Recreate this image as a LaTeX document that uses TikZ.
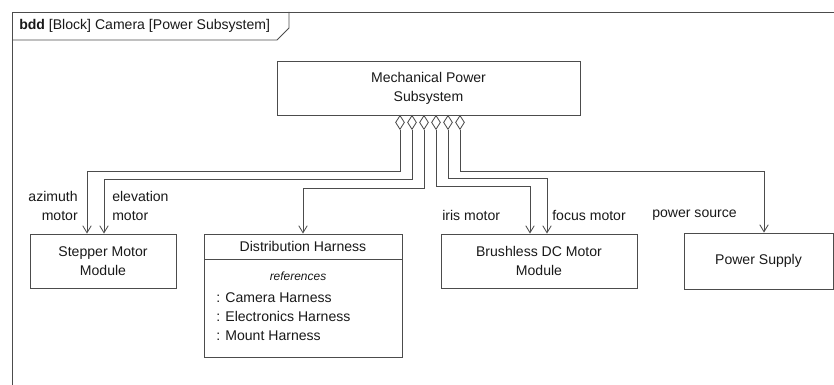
\documentclass[tikz,border=0pt]{standalone}
\usepackage{fontspec}
\setmainfont{Liberation Sans}
\usetikzlibrary{shapes.geometric,arrows.meta}

\begin{document}
\begin{tikzpicture}[x=0.025cm, y=-0.025cm, font=\fontsize{10}{13.5}\selectfont,
  line/.style={draw=black!70, line width=0.6pt},
  block/.style={line, rectangle, align=center, minimum height=1.35cm, inner sep=0pt, text=black!90},
  agg/.style={line, diamond, fill=white, minimum width=0.225cm, minimum height=0.35cm, inner sep=0pt, anchor=north},
  conn/.style={line, -{Straight Barb[length=5pt, width=6pt]}},
  lab/.style={inner sep=0pt, text=black!90}]
\useasboundingbox (0,0) rectangle (834,385);
% frame and its tab
\draw[line] (834,12) -- (12,12) -- (12,385);
\draw[line] (12,40) -- (277,40) -- (289,28) -- (289,12);
\node[lab, anchor=west] (title) at (19,26) {\textbf{bdd} [Block] Camera [Power Subsystem]};

% blocks
\node[block, minimum width=7.575cm] (mps) at (428.5,88) {Mechanical Power\\Subsystem};
\node[block, minimum width=3.65cm] (stepper) at (103,261) {Stepper Motor\\Module};
\node[block, minimum width=4.9cm] (bldc) at (539,261) {Brushless DC Motor\\Module};
\node[block, minimum width=3.725cm, minimum height=1.4cm] (psu) at (758.5,261) {Power Supply};
\node[block, minimum width=4.95cm, minimum height=0.625cm] (dh) at (303,246.5) {Distribution Harness};
\node[block, minimum width=4.95cm, minimum height=2.45cm, anchor=north] (dhbody) at (dh.south) {};
\node[lab, font=\fontsize{8.5}{11}\selectfont\itshape] (refs) at (298,276) {references};
\node[lab, anchor=west, align=left] (parts) at (216,316.5) {: Camera Harness\\: Electronics Harness\\: Mount Harness};

% composite ends
\foreach \i/\x in {1/400,2/412,3/424,4/436,5/448,6/460} {
  \node[agg] (d\i) at (\x,115) {};
}

% parts
\draw[conn] (d1.south) -- (d1.south |- 0,171) -| (87,0 |- stepper.north);
\draw[conn] (d2.south) -- (d2.south |- 0,179) -| (104,0 |- stepper.north);
\draw[conn] (d3.south) -- (d3.south |- 0,188) -| (dh.north);
\draw[conn] (d4.south) -- (d4.south |- 0,186) -| (530,0 |- bldc.north);
\draw[conn] (d5.south) -- (d5.south |- 0,178) -| (547,0 |- bldc.north);
\draw[conn] (d6.south) -- (d6.south |- 0,171) -| (764,0 |- psu.north);

% role names
\node[lab, anchor=east, align=right] (az) at (78,205.5) {azimuth\\motor};
\node[lab, anchor=west, align=left] (el) at (112,205.5) {elevation\\motor};
\node[lab, anchor=west] (iris) at (442,215) {iris motor};
\node[lab, anchor=west] (focus) at (552,215) {focus motor};
\node[lab, anchor=west] (src) at (652,215) {power source};
\end{tikzpicture}
\end{document}
